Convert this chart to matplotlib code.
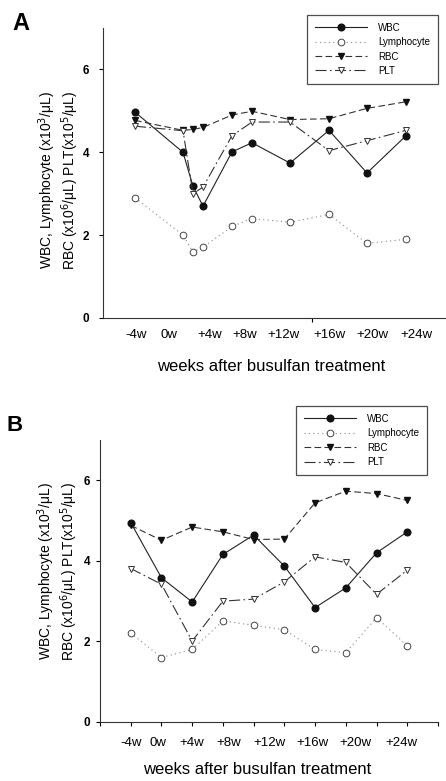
import matplotlib
matplotlib.use("Agg")
import matplotlib.pyplot as plt
from matplotlib.lines import Line2D

plt.rcParams['font.family'] = ['Liberation Sans', 'DejaVu Sans']

# ---- panel A: sampling points (weeks) ----
a_weeks = [-4.1, 0.7, 1.7, 2.7, 5.6, 7.6, 11.4, 15.3, 19.1, 23.0]
a_wbc = [4.97, 4.00, 3.18, 2.70, 4.01, 4.23, 3.74, 4.53, 3.50, 4.40]
a_lym = [2.90, 2.00, 1.59, 1.71, 2.21, 2.40, 2.31, 2.50, 1.80, 1.90]
a_rbc = [4.77, 4.53, 4.55, 4.60, 4.90, 4.99, 4.79, 4.81, 5.06, 5.22]
a_plt = [4.63, 4.52, 3.00, 3.16, 4.40, 4.73, 4.73, 4.04, 4.28, 4.53]
a_label_pos = [-4, -0.7, 3.4, 6.9, 10.8, 15.3, 19.6, 24]

# ---- panel B: ten evenly spaced samples ----
b_idx = [0, 1, 2, 3, 4, 5, 6, 7, 8, 9]
b_wbc = [4.95, 3.58, 2.98, 4.16, 4.64, 3.87, 2.84, 3.33, 4.20, 4.72]
b_lym = [2.21, 1.60, 1.80, 2.51, 2.40, 2.29, 1.80, 1.72, 2.59, 1.89]
b_rbc = [4.88, 4.51, 4.84, 4.72, 4.53, 4.54, 5.44, 5.73, 5.67, 5.50]
b_plt = [3.81, 3.42, 2.01, 3.00, 3.05, 3.48, 4.10, 3.96, 3.17, 3.77]
b_label_pos = [0, 0.9, 2.0, 3.2, 4.5, 5.9, 7.3, 8.8]

week_labels = ['-4w', '0w', '+4w', '+8w', '+12w', '+16w', '+20w', '+24w']
series_names = ['WBC', 'Lymphocyte', 'RBC', 'PLT']
y_ticks = [0, 2, 4, 6]

styles = [
    dict(color='#222222', lw=0.8, ls='-', marker='o', mfc='#111111', mec='#111111', ms=4.8),
    dict(color='#888888', lw=0.8, ls=(0, (1, 3)), marker='o', mfc='white', mec='#444444', ms=4.8, mew=0.7),
    dict(color='#333333', lw=0.8, ls=(0, (6, 3)), marker='v', mfc='#111111', mec='#111111', ms=5),
    dict(color='#333333', lw=0.8, ls=(0, (10, 3, 1.5, 3)), marker='v', mfc='white', mec='#333333', ms=5, mew=0.7),
]

ylab = 'WBC, Lymphocyte (x10$^3$/\u03bcL)\nRBC (x10$^6$/\u03bcL) PLT(x10$^5$/\u03bcL)'

fig = plt.figure(figsize=(4.46, 7.81), dpi=100)
W, H = 446, 781


def setup(ax, xlim, label_pos, major, pady, padx):
    ax.set_xlim(*xlim)
    ax.set_ylim(0, 7)
    for s in ['top', 'right']:
        ax.spines[s].set_visible(False)
    for s in ['left', 'bottom']:
        ax.spines[s].set_linewidth(0.8)
        ax.spines[s].set_color('#333333')
    ax.set_yticks(y_ticks)
    ax.set_yticklabels([str(v) for v in y_ticks], fontweight='bold', fontsize=8.5)
    ax.tick_params(axis='y', direction='out', length=3, width=0.8, pad=pady)
    ax.xaxis.remove_overlapping_locs = False
    ax.set_xticks(major)
    ax.set_xticklabels([''] * len(major))
    ax.tick_params(axis='x', which='major', direction='out', length=3, width=0.8)
    ax.set_xticks(label_pos, week_labels, minor=True)
    ax.tick_params(axis='x', which='minor', length=0, labelsize=9.5, pad=padx)


# panel A
axA = fig.add_axes([103 / W, 1 - 318 / H, (445 - 103) / W, 290 / H])
setup(axA, (-7.3, 26.9), a_label_pos, [13.6], 7, 8)
for vals, st in zip([a_wbc, a_lym, a_rbc, a_plt], styles):
    axA.plot(a_weeks, vals, **st)

# panel B
axB = fig.add_axes([100 / W, 1 - 722 / H, (438 - 100) / W, 282 / H])
setup(axB, (-1, 10), b_label_pos, list(range(-1, 11)), 4, 11)
for vals, st in zip([b_wbc, b_lym, b_rbc, b_plt], styles):
    axB.plot(b_idx, vals, **st)

handles = [Line2D([], [], **st) for st in styles]


def add_legend(x1, y1):
    leg = fig.legend(handles, series_names, loc='upper right',
                     bbox_to_anchor=(x1 / W, 1 - y1 / H), fontsize=7,
                     frameon=True, fancybox=False, borderpad=0.8,
                     handlelength=5.3, handletextpad=1.2, labelspacing=0.45,
                     borderaxespad=0)
    leg.get_frame().set_edgecolor('#222222')
    leg.get_frame().set_linewidth(0.9)


add_legend(438, 15)
add_legend(427, 406)

# axis titles and panel letters
fig.text(59 / W, 1 - 180 / H, ylab, rotation=90, ha='center', va='center',
         multialignment='center', fontsize=10, linespacing=1.1)
fig.text(58 / W, 1 - 571 / H, ylab, rotation=90, ha='center', va='center',
         multialignment='center', fontsize=10, linespacing=1.1)
fig.text(271 / W, 1 - 367 / H, 'weeks after busulfan treatment', ha='center', va='center', fontsize=12)
fig.text(257 / W, 1 - 770 / H, 'weeks after busulfan treatment', ha='center', va='center', fontsize=12)
fig.text(12 / W, 1 - 24 / H, 'A', fontsize=17, fontweight='bold', va='center', ha='left')
fig.text(7 / W, 1 - 425 / H, 'B', fontsize=16, fontweight='bold', va='center', ha='left')

fig.savefig('out.png', dpi=100)
